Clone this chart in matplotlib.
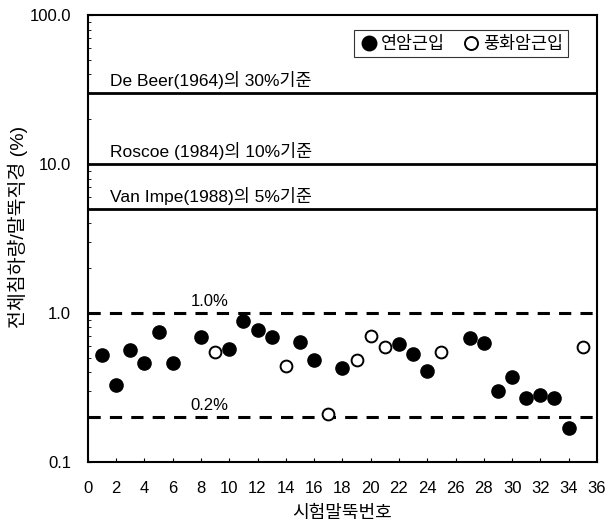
import matplotlib
matplotlib.use("Agg")
import matplotlib.pyplot as plt
from matplotlib.ticker import FixedLocator, LogLocator, NullFormatter

plt.rcParams['font.family'] = ['Liberation Sans', 'Noto Sans CJK KR', 'DejaVu Sans']

# pile number vs settlement/diameter ratio (%)
soft_pile = [1, 2, 3, 4, 5, 6, 8, 10, 11, 12, 13, 15, 16, 18, 22, 23, 24, 27, 28, 29, 30, 31, 32, 33, 34]
soft_ratio = [0.52, 0.33, 0.56, 0.46, 0.74, 0.46, 0.69, 0.57, 0.88, 0.77, 0.69, 0.64, 0.48, 0.43,
              0.62, 0.53, 0.41, 0.68, 0.63, 0.30, 0.37, 0.27, 0.28, 0.27, 0.17]
weath_pile = [9, 14, 17, 19, 20, 21, 25, 35]
weath_ratio = [0.55, 0.44, 0.21, 0.48, 0.70, 0.59, 0.55, 0.59]

criteria = [30, 10, 5]
criteria_txt = ["De Beer(1964)의 30%기준", "Roscoe (1984)의 10%기준", "Van Impe(1988)의 5%기준"]
limits = [1.0, 0.2]
limit_txt = ["1.0%", "0.2%"]

fig = plt.figure(figsize=(6.06, 5.26), dpi=100)
ax = fig.add_axes([0.145, 0.122, 0.840, 0.849])
ax.set_yscale("log")
ax.set_xlim(0, 36)
ax.set_ylim(0.1, 100)

for v, t in zip(criteria, criteria_txt):
    ax.axhline(v, color="black", lw=2.0)
    ax.text(1.55, v * 1.07, t, fontsize=12.5, ha="left", va="bottom")
for v, t in zip(limits, limit_txt):
    ax.axhline(v, color="black", lw=2.2, ls=(0, (4, 3)))
    ax.text(8.6, v * 1.07, t, fontsize=12, ha="center", va="bottom")

ax.plot(soft_pile, soft_ratio, "o", color="black", ms=9.5, ls="none", label="연암근입")
ax.plot(weath_pile, weath_ratio, "o", mfc="white", mec="black", mew=1.4, ms=8.5, ls="none",
        label="풍화암근입")

ax.xaxis.set_major_locator(FixedLocator(range(0, 37, 2)))
ax.yaxis.set_major_locator(FixedLocator([0.1, 1, 10, 100]))
ax.set_yticklabels(["0.1", "1.0", "10.0", "100.0"])
ax.yaxis.set_minor_locator(LogLocator(base=10, subs=range(2, 10)))
ax.yaxis.set_minor_formatter(NullFormatter())
ax.tick_params(axis="x", direction="in", length=3, labelsize=12, pad=14)
ax.tick_params(axis="y", which="major", direction="in", length=3, labelsize=12, pad=12)
ax.tick_params(axis="y", which="minor", direction="in", length=2)
for s in ax.spines.values():
    s.set_linewidth(1.5)

ax.set_xlabel("시험말뚝번호", fontsize=13, labelpad=6)
ax.set_ylabel("전체침하량/말뚝직경 (%)", fontsize=14)
ax.yaxis.set_label_coords(-0.118, 0.525)

leg = ax.legend(loc="upper right", bbox_to_anchor=(0.943, 0.966), borderaxespad=0, ncol=2,
                frameon=True, fancybox=False, edgecolor="black", fontsize=12.5,
                handletextpad=0.15, columnspacing=0.9, handlelength=1.1, borderpad=0.3,
                markerscale=1.1)
leg.get_frame().set_linewidth(0.8)

fig.savefig("out.png", dpi=100)
